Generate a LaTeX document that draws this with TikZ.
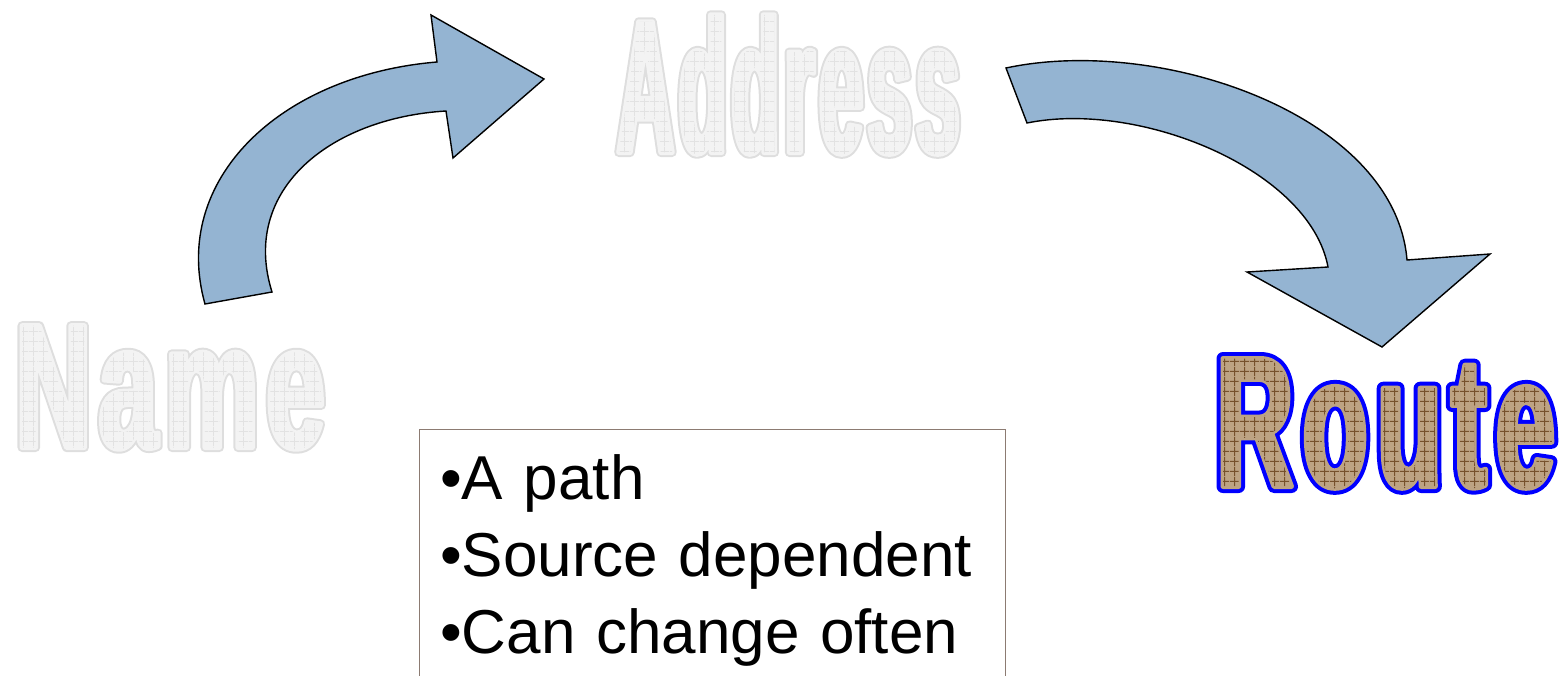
\documentclass[tikz,border=0pt]{standalone}
\usepackage{fontspec}
\usetikzlibrary{patterns}
\setmainfont{Liberation Sans}
% condensed heavy faces for the three word-art labels
\newfontfamily\addressface[FakeStretch=0.42]{Liberation Sans}
\newfontfamily\nameface[FakeStretch=0.6]{Liberation Sans}
\newfontfamily\routeface[FakeStretch=0.58]{Liberation Sans}

\makeatletter
\newcommand\pdfraw[1]{\pgfsys@invoke{#1}}
\makeatother

\definecolor{arrowblue}{HTML}{94B4D2}
\definecolor{boxedge}{HTML}{8C7B72}
\definecolor{paleface}{HTML}{F3F3F3}
\definecolor{paleedge}{HTML}{DEDEDE}
\definecolor{palegrid}{HTML}{E2E2E2}
\definecolor{routefill}{HTML}{BDA383}
\definecolor{routegrid}{HTML}{76512C}
\definecolor{routeedge}{HTML}{0000FF}

% square grids laid over the word-art glyphs
\pgfdeclarepatternformonly{thingrid}{\pgfqpoint{0pt}{0pt}}{\pgfqpoint{10pt}{10pt}}{\pgfqpoint{10pt}{10pt}}{%
  \pgfsetlinewidth{0.7pt}%
  \pgfpathmoveto{\pgfqpoint{5pt}{0pt}}\pgfpathlineto{\pgfqpoint{5pt}{10pt}}%
  \pgfpathmoveto{\pgfqpoint{0pt}{5pt}}\pgfpathlineto{\pgfqpoint{10pt}{5pt}}%
  \pgfusepath{stroke}}
\pgfdeclarepatternformonly{boldgrid}{\pgfqpoint{0pt}{0pt}}{\pgfqpoint{10pt}{10pt}}{\pgfqpoint{10pt}{10pt}}{%
  \pgfsetlinewidth{1.2pt}%
  \pgfpathmoveto{\pgfqpoint{5pt}{0pt}}\pgfpathlineto{\pgfqpoint{5pt}{10pt}}%
  \pgfpathmoveto{\pgfqpoint{0pt}{5pt}}\pgfpathlineto{\pgfqpoint{10pt}{5pt}}%
  \pgfusepath{stroke}}

\newbox\artbox

% word art: wide stroked outline, a fill with a narrower stroke of the face
% colour, then a grid pattern over the glyphs
% #1 font, #2 word, #3 outline colour, #4 face colour, #5 grid colour,
% #6 outline stroke width, #7 face stroke width, #8 grid pattern
\newcommand\artword[8]{%
  \setbox\artbox\hbox{#1#2}%
  \rlap{\pdfraw{1 Tr #6 w 1 j}\color{#3}\copy\artbox}%
  \rlap{\pdfraw{2 Tr #7 w 1 j}\color{#4}\copy\artbox}%
  \rlap{\pdfraw{0 Tr}\pgfsetfillpattern{#8}{#5}\copy\artbox}%
  \hbox to\wd\artbox{\vrule width 0pt height\ht\artbox depth\dp\artbox\hfil}%
}

\tikzset{
  bentarrow/.style={fill=arrowblue, draw=black, line width=1.4pt, line join=miter},
  wordart/.style={inner sep=0pt, anchor=base west},
}

\begin{document}
\begin{tikzpicture}[x=1pt, y=-1pt]
  \useasboundingbox (0,0) rectangle (1562,676);
  \clip (0,0) rectangle (1562,676);

  % word-art labels
  \node[wordart] (address) at (616.5,152.5)
    {\artword{\addressface\bfseries\fontsize{190}{190}\selectfont}%
      {A\kern4pt d\kern4pt d\kern4pt r\kern4pt e\kern4pt s\kern4pt s}%
      {paleedge}{paleface}{palegrid}{9}{5}{thingrid}};
  \node[wordart] (name) at (14.7,447.5)
    {\artword{\nameface\bfseries\fontsize{177}{177}\selectfont}%
      {N\kern7pt a\kern7pt m\kern7pt e}%
      {paleedge}{paleface}{palegrid}{9}{5}{thingrid}};
  \node[wordart] (route) at (1215.6,486.5)
    {\artword{\routeface\bfseries\fontsize{186}{186}\selectfont}%
      {R\kern8.5pt o\kern8.5pt u\kern8.5pt t\kern8.5pt e}%
      {routeedge}{routefill}{routegrid}{13}{5}{boldgrid}};

  % bent arrow from Name up to Address
  \draw[bentarrow] (205,304) .. controls (170,180) and (280,75) .. (437,62)
    -- (431,15) -- (544,79) -- (453,158) -- (446,111)
    .. controls (330,118) and (240,190) .. (272,292) -- cycle;

  % bent arrow from Address down to Route
  \draw[bentarrow] (1006,68) .. controls (1160,35) and (1395,115) .. (1407,260)
    -- (1490,254) -- (1382,347) -- (1247,272) -- (1328,267)
    .. controls (1310,170) and (1140,100) .. (1027,123) -- cycle;

  % text box with the properties of a route
  \node[draw=boxedge, line width=1.2pt, minimum width=586pt, minimum height=270pt,
        anchor=north west, inner sep=0pt] (box) at (419,429) {};
  \node[anchor=base west, inner sep=0pt, text width=560pt, align=left,
        font=\fontsize{62}{77}\selectfont] (points) at (440,499)
    {•A path\\•Source dependent\\•Can change often};
\end{tikzpicture}
\end{document}
